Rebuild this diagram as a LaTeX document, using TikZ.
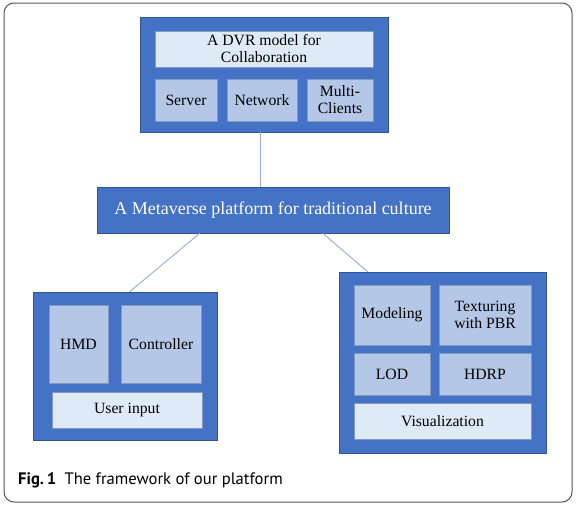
\documentclass[tikz,border=0pt]{standalone}
\usepackage{fontspec}
\setmainfont{Liberation Serif}
\newfontfamily\capfont{PT Sans}
\definecolor{outerblue}{HTML}{4472C4}
\definecolor{midblue}{HTML}{B4C7E7}
\definecolor{lightblue}{HTML}{DEEBF7}
\definecolor{edgeblue}{HTML}{2F5597}
\definecolor{linkblue}{HTML}{98AAD4}
\definecolor{framegray}{HTML}{555555}
\begin{document}
\begin{tikzpicture}[x=1pt,y=-1pt,
  bigbox/.style={draw=edgeblue, line width=0.6pt, fill=outerblue, inner sep=0pt},
  midbox/.style={draw=edgeblue!60, line width=0.5pt, fill=midblue, inner sep=0pt, align=center, font=\fontsize{15.7}{17}\selectfont},
  litebox/.style={draw=edgeblue!60, line width=0.5pt, fill=lightblue, inner sep=0pt, align=center, font=\fontsize{15.7}{17}\selectfont},
  link/.style={draw=linkblue, line width=0.9pt}]
\useasboundingbox (0,0) rectangle (578,506);
\draw[framegray, line width=1pt, rounded corners=10pt] (4,3) rectangle (572,502);
% top group
\node[bigbox, minimum width=248pt, minimum height=115pt] (top) at (264,74.5) {};
\node[litebox, minimum width=218pt, minimum height=36pt] (dvr) at (264,49) {A DVR model for\\Collaboration};
\node[midbox, minimum width=62pt, minimum height=42pt] (server) at (186,100) {Server};
\node[midbox, minimum width=70pt, minimum height=42pt] (network) at (262,100) {Network};
\node[midbox, minimum width=66pt, minimum height=42pt] (multi) at (340,100) {Multi-\\Clients};
% middle
\node[bigbox, minimum width=352pt, minimum height=46pt, text=white, font=\fontsize{18}{20}\selectfont] (mid) at (273,210) {A Metaverse platform for traditional culture};
% left group
\node[bigbox, minimum width=184pt, minimum height=148pt] (left) at (125,366) {};
\node[midbox, minimum width=59pt, minimum height=78pt] (hmd) at (78.5,344) {HMD};
\node[midbox, minimum width=80pt, minimum height=78pt] (ctrl) at (161,344) {Controller};
\node[litebox, minimum width=150pt, minimum height=36pt] (user) at (127,410) {User input};
% right group
\node[bigbox, minimum width=207pt, minimum height=181pt] (right) at (442.5,362.5) {};
\node[midbox, minimum width=76pt, minimum height=60pt] (model) at (392,315) {Modeling};
\node[midbox, minimum width=92pt, minimum height=60pt] (tex) at (485,315) {Texturing\\with PBR};
\node[midbox, minimum width=76pt, minimum height=42pt] (lod) at (392,374) {LOD};
\node[midbox, minimum width=92pt, minimum height=42pt] (hdrp) at (485,374) {HDRP};
\node[litebox, minimum width=177pt, minimum height=36pt] (vis) at (442.5,421) {Visualization};
% connectors
\draw[link] ([xshift=-4pt]top.south) -- ([xshift=-4pt]top.south |- mid.north);
\draw[link] ([xshift=103pt]mid.south west) -- ([xshift=97pt]left.north west);
\draw[link] ([xshift=226pt]mid.south west) -- ([xshift=29pt]right.north west);
% caption
\node[anchor=west, font=\capfont\fontsize{16.6}{20}\selectfont, inner sep=0pt] (cap) at (18,480) {\textbf{Fig.\,1}\hspace{0.5em}The framework of our platform};
\end{tikzpicture}
\end{document}
